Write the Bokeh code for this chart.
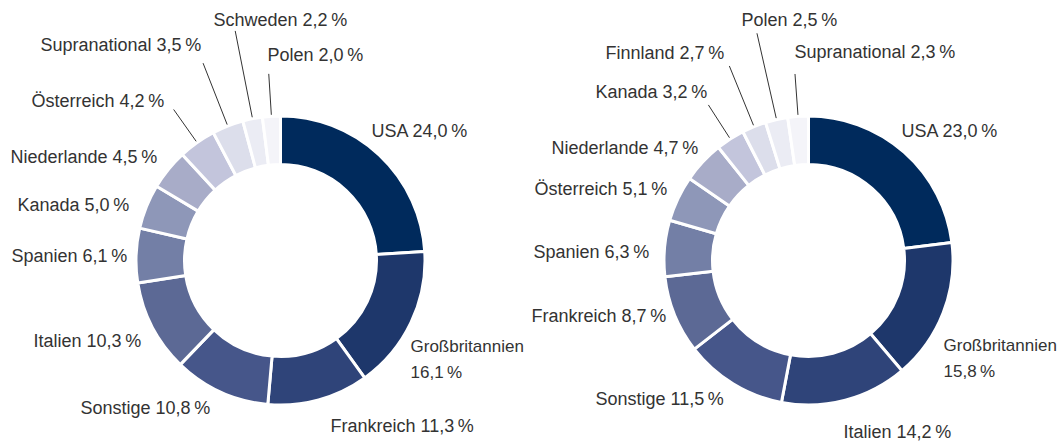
import math
from bokeh.plotting import figure
from bokeh.models import Range1d
from bokeh.core.properties import value
from bokeh.embed import file_html
from bokeh.resources import INLINE

# ---------------- data ----------------
left_names = ["USA", "Großbritannien", "Frankreich", "Sonstige", "Italien", "Spanien",
              "Kanada", "Niederlande", "Österreich", "Supranational", "Schweden", "Polen"]
left_values = [24.0, 16.1, 11.3, 10.8, 10.3, 6.1, 5.0, 4.5, 4.2, 3.5, 2.2, 2.0]

right_names = ["USA", "Großbritannien", "Italien", "Sonstige", "Frankreich", "Spanien",
               "Österreich", "Niederlande", "Kanada", "Finnland", "Polen", "Supranational"]
right_values = [23.0, 15.8, 14.2, 11.5, 8.7, 6.3, 5.1, 4.7, 3.2, 2.7, 2.5, 2.3]

# ---------------- style / layout ----------------
colors = ["#002a5c", "#1e376b", "#2f4479", "#46568a", "#5c6995", "#737fa6",
          "#8e97b8", "#a8acc8", "#c3c5dc", "#dcdeeb", "#ebecf4", "#f4f4f9"]

W, H = 1059, 441
IMG_H = 441  # reference image height (y flipped)

R_OUT, R_IN = 144.5, 96.0
LEADER_IN = 146
TEXT_DY = 7  # rendering offset correction for text baseline

left_center = (280, 260)
right_center = (808, 260)

# label anchor positions (left edge, baseline) in page pixels
left_label_x = [371, 410, 330, 80, 33, 11, 17, 10, 31, 40, 213, 267]
left_label_y = [137, 353, 432, 414, 347, 262, 211, 163, 107, 51, 26, 61]
left_leader_r = [0, 0, 0, 0, 0, 0, 0, 0, 185, 212, 234, 187]

right_label_x = [901, 943, 843, 595, 531, 533, 534, 551, 595, 605, 741, 794]
right_label_y = [137, 352, 438, 405, 322, 258, 195, 154, 98, 59, 26, 58]
right_leader_r = [0, 0, 0, 0, 0, 0, 0, 0, 185, 210, 233, 187]

break_names = {"Großbritannien"}
LINE_GAP = 26

FONT = value("Liberation Sans")
TEXT_COLOR = "#333333"

p = figure(width=W, height=H, output_backend="svg", toolbar_location=None,
           x_range=Range1d(0, W), y_range=Range1d(IMG_H - H, IMG_H),
           min_border=0)
p.axis.visible = False
p.grid.visible = False
p.outline_line_color = None
p.background_fill_color = "white"


def fmt(v):
    return f"{v:.1f}".replace(".", ",") + "\u2009%"


def donut(center, names, values, lx, ly, leader_r):
    cx, cy_img = center
    cy = IMG_H - cy_img
    total = sum(values)
    starts, ends = [], []
    c = 0.0
    mids = []
    for v in values:
        a0 = math.pi / 2 - 2 * math.pi * c / total
        c += v
        a1 = math.pi / 2 - 2 * math.pi * c / total
        starts.append(a0)
        ends.append(a1)
        mids.append((a0 + a1) / 2)
    n = len(values)
    p.annular_wedge(x=[cx] * n, y=[cy] * n, inner_radius=R_IN, outer_radius=R_OUT,
                    start_angle=starts, end_angle=ends, direction="clock",
                    fill_color=colors[:n], line_color="white", line_width=3)
    # leader lines
    xs, ys = [], []
    for m, r in zip(mids, leader_r):
        if r > 0:
            xs.append([cx + LEADER_IN * math.cos(m), cx + r * math.cos(m)])
            ys.append([cy + LEADER_IN * math.sin(m), cy + r * math.sin(m)])
    if xs:
        p.multi_line(xs=xs, ys=ys, line_color="#333333", line_width=1)
    # labels
    tx, ty, tt = [], [], []
    bx, by, bt = [], [], []
    for name, v, x, y in zip(names, values, lx, ly):
        if name in break_names:
            bx += [x, x]
            by += [IMG_H - y + TEXT_DY, IMG_H - y - LINE_GAP + TEXT_DY]
            bt += [name, fmt(v)]
        else:
            tx.append(x)
            ty.append(IMG_H - y + TEXT_DY)
            tt.append(f"{name} {fmt(v)}")
    p.text(x=tx, y=ty, text=tt, text_font=FONT, text_font_size="18px",
           text_color=TEXT_COLOR, text_align="left", text_baseline="alphabetic")
    p.text(x=bx, y=by, text=bt, text_font=FONT, text_font_size="17px",
           text_color=TEXT_COLOR, text_align="left", text_baseline="alphabetic")


donut(left_center, left_names, left_values, left_label_x, left_label_y, left_leader_r)
donut(right_center, right_names, right_values, right_label_x, right_label_y, right_leader_r)

open("out.html", "w").write(file_html(p, INLINE))
